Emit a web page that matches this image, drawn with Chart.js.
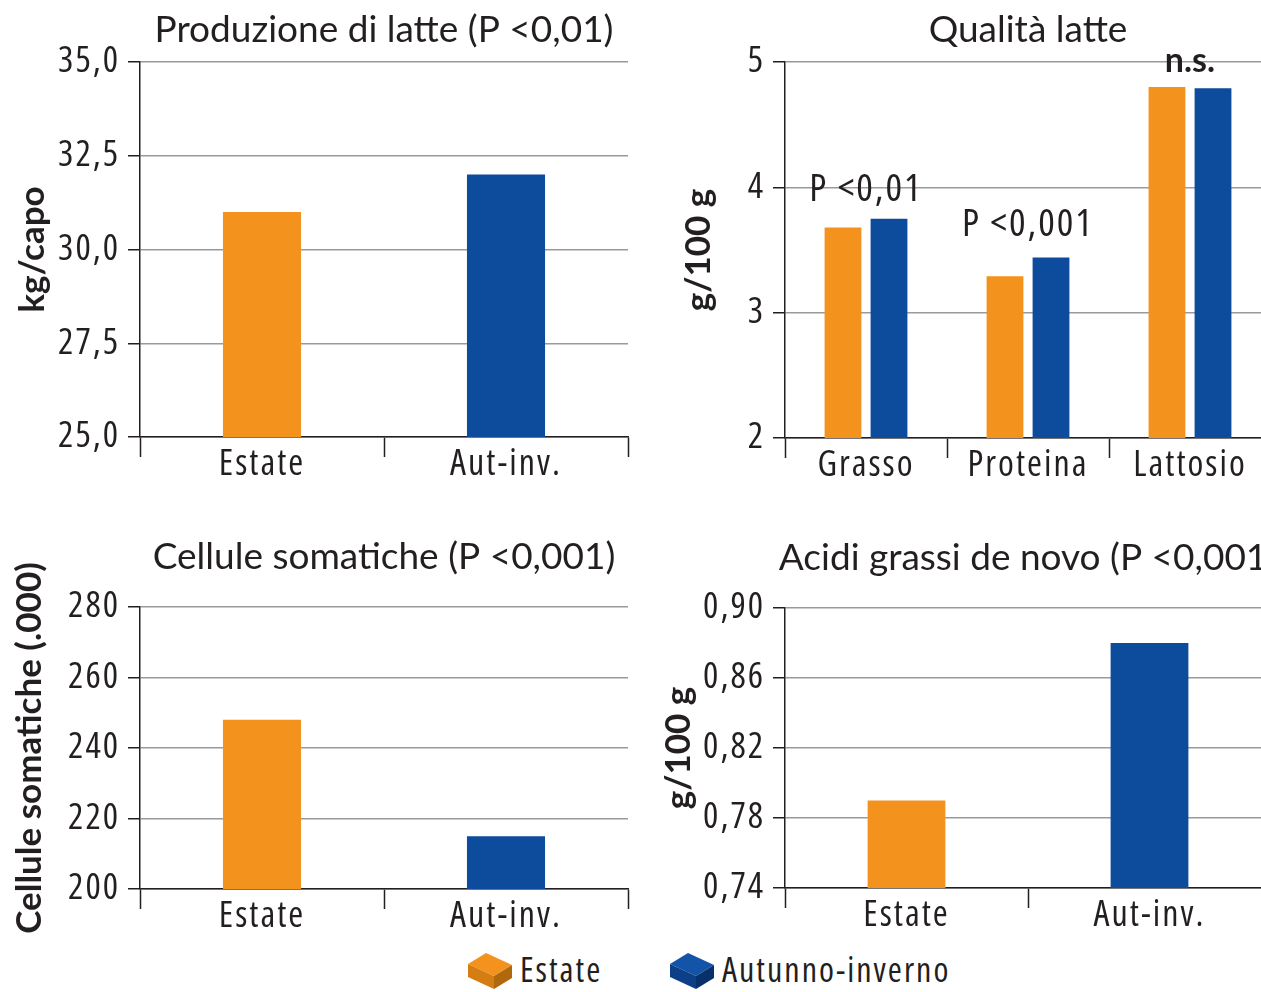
<!DOCTYPE html>
<html>
<head>
<meta charset="utf-8">
<script src="https://cdn.jsdelivr.net/npm/chart.js@4.4.1/dist/chart.umd.min.js"></script>
<style>
  html, body { margin: 0; padding: 0; background: #fff; }
  #wrap { position: relative; width: 1261px; height: 992px; overflow: hidden; }
  .box { position: absolute; width: 640px; }
  .leg { position: absolute; top: 946px; display: flex; align-items: center; color: #231f20; font-size: 34px; }
  .leg svg { margin-right: 6px; }
</style>
</head>
<body>
<div id="wrap">
  <div class="box" style="left:0;top:0;height:490px"><canvas id="c1"></canvas></div>
  <div class="box" style="left:640px;top:0;height:490px"><canvas id="c2"></canvas></div>
  <div class="box" style="left:0;top:520px;height:420px"><canvas id="c3"></canvas></div>
  <div class="box" style="left:640px;top:520px;height:420px"><canvas id="c4"></canvas></div>

  <div class="leg" style="left:466px">
    <svg width="48" height="42" viewBox="0 0 48 42">
      <polygon points="2,16 20,5 46,17 28,28" fill="#f4921e"/>
      <polygon points="2,16 28,28 28,41 2,29" fill="#d47d12"/>
      <polygon points="28,28 46,17 46,30 28,41" fill="#b0680c"/>
    </svg><span id="legEstate"></span>
  </div>
  <div class="leg" style="left:668px">
    <svg width="48" height="42" viewBox="0 0 48 42">
      <polygon points="2,16 20,5 46,17 28,28" fill="#1354a8"/>
      <polygon points="2,16 28,28 28,41 2,29" fill="#0b3f87"/>
      <polygon points="28,28 46,17 46,30 28,41" fill="#08306a"/>
    </svg><span id="legAutInv"></span>
  </div>
</div>

<script>
// data
const seasons = ["Estate", "Aut-inv."];
const legendLabels = ["Estate", "Autunno-inverno"];

const milkYield = [31.0, 32.0];
const milkYieldTicks = [25, 27.5, 30, 32.5, 35];
const milkYieldTickLabels = ["25,0", "27,5", "30,0", "32,5", "35,0"];

const qualityCats = ["Grasso", "Proteina", "Lattosio"];
const qualityEstate = [3.68, 3.29, 4.80];
const qualityAutInv = [3.75, 3.44, 4.79];
const qualitySig = ["P <0,01", "P <0,001", "n.s."];
const qualityTicks = [2, 3, 4, 5];
const qualityTickLabels = ["2", "3", "4", "5"];

const somaticCells = [248, 215];
const somaticTicks = [200, 220, 240, 260, 280];
const somaticTickLabels = ["200", "220", "240", "260", "280"];

const deNovoFA = [0.79, 0.88];
const deNovoTicks = [0.74, 0.78, 0.82, 0.86, 0.90];
const deNovoTickLabels = ["0,74", "0,78", "0,82", "0,86", "0,90"];

// styles
const ORANGE = "#f4921e";
const BLUE = "#0d4b9d";
const INK = "#231f20";
const GRID = "#9a9a9a";
const FONT_TITLE = "Lato, 'Noto Sans', sans-serif";

// find a narrow face for the tick labels (the original uses a condensed font)
function pickCondensed(){
  const ctx = document.createElement("canvas").getContext("2d");
  const probe = "Estate 35,0 Aut-inv. Autunno";
  const w = f => { ctx.font = f; return ctx.measureText(probe).width; };
  const mono = w("40px monospace");
  const cands = ["'Noto Sans'", "'Open Sans'", "Roboto", "'DejaVu Sans'"];
  // a real semi-condensed face first
  for(const fam of cands){
    const normal = w("40px " + fam + ", monospace");
    if(Math.abs(normal - mono) < 0.5) continue;
    const semi = w("semi-condensed 40px " + fam + ", monospace");
    const cond = w("condensed 40px " + fam + ", monospace");
    if(semi < normal * 0.95 && semi > cond * 1.05) return { family: fam, stretch: "semi-condensed", spacing: 0 };
  }
  // otherwise a condensed face, opened up a little
  for(const fam of cands){
    const normal = w("40px " + fam + ", monospace");
    if(Math.abs(normal - mono) < 0.5) continue;
    const cond = w("condensed 40px " + fam + ", monospace");
    if(cond < normal * 0.95) return { family: fam, stretch: "condensed", spacing: 2 };
  }
  return { family: "Lato", stretch: "", spacing: 0 };
}
const COND = pickCondensed();
const COND_SIZE = COND.family === "Lato" ? 32 : 36;

function condFont(size){
  return { family: COND.family, size: size, weight: COND.stretch || undefined };
}
function condCss(size){
  return (COND.stretch + " " + size + "px " + COND.family).trim();
}

document.querySelectorAll(".leg").forEach(el => {
  el.style.fontFamily = COND.family;
  if(COND.stretch) el.style.fontStretch = COND.stretch;
  el.style.letterSpacing = COND.spacing + "px";
});
document.getElementById("legEstate").innerText = legendLabels[0];
document.getElementById("legAutInv").innerText = legendLabels[1];

// condensed text gets a bit of tracking
const tracking = {
  id: "tracking",
  beforeDraw(chart){ chart.ctx.letterSpacing = COND.spacing + "px"; }
};

// panel title centred over the plot area, and the rotated y title
const panelTitle = {
  id: "panelTitle",
  afterDraw(chart, args, opts){
    const ctx = chart.ctx;
    const area = chart.chartArea;
    ctx.save();
    ctx.letterSpacing = "0px";
    ctx.fillStyle = INK;
    ctx.font = "37px " + FONT_TITLE;
    ctx.textAlign = "center";
    ctx.textBaseline = "middle";
    ctx.fillText(opts.text, (area.left + area.right) / 2, opts.y);
    ctx.translate(opts.yTitleX, (area.top + area.bottom) / 2);
    ctx.rotate(-Math.PI / 2);
    ctx.font = "bold 35px " + FONT_TITLE;
    ctx.fillText(opts.yTitle, 0, 0);
    ctx.restore();
  }
};

// significance labels over the bar groups
const sigLabels = {
  id: "sigLabels",
  afterDatasetsDraw(chart, args, opts){
    if(!opts.labels) return;
    const ctx = chart.ctx;
    const m0 = chart.getDatasetMeta(0);
    const m1 = chart.getDatasetMeta(1);
    ctx.save();
    ctx.fillStyle = INK;
    ctx.textAlign = "center";
    ctx.textBaseline = "alphabetic";
    opts.labels.forEach((txt, i) => {
      const top = Math.min(m0.data[i].y, m1.data[i].y);
      const x = chart.scales.x.getPixelForValue(i);
      if(opts.bold[i]){
        ctx.letterSpacing = "0px";
        ctx.font = "bold 34px " + FONT_TITLE;
      } else {
        ctx.letterSpacing = COND.spacing + "px";
        ctx.font = condCss(COND_SIZE + 3);
      }
      ctx.fillText(txt, x, top - opts.gap[i]);
    });
    ctx.restore();
  }
};

function makeChart(id, cfg){
  const yScale = {
    min: cfg.ticks[0],
    max: cfg.ticks[cfg.ticks.length - 1],
    afterBuildTicks: s => { s.ticks = cfg.ticks.map(v => ({ value: v })); },
    afterFit: s => { s.width = cfg.yWidth; },
    ticks: {
      color: INK,
      padding: 10 - COND.spacing,
      font: condFont(COND_SIZE),
      callback: (v, i) => cfg.tickLabels[i]
    },
    grid: { color: GRID, lineWidth: 1.5, tickColor: INK, tickLength: 12, tickWidth: 1.5 },
    border: { color: INK, width: 1.5 }
  };

  const xScale = {
    afterFit: s => { s.height = cfg.xHeight; },
    ticks: { color: INK, padding: -14, font: condFont(COND_SIZE) },
    grid: { drawOnChartArea: false, drawTicks: true, tickLength: 20, tickColor: INK, tickWidth: 1.5 },
    border: { color: INK, width: 1.5 }
  };

  return new Chart(document.getElementById(id), {
    type: "bar",
    data: { labels: cfg.labels, datasets: cfg.datasets },
    options: {
      responsive: true,
      maintainAspectRatio: false,
      animation: false,
      layout: { padding: { top: cfg.top, right: cfg.right, left: 0, bottom: 0 } },
      scales: { x: xScale, y: yScale },
      plugins: {
        legend: { display: false },
        tooltip: { enabled: false },
        panelTitle: { text: cfg.title, y: cfg.titleY, yTitle: cfg.yTitle, yTitleX: cfg.yTitleX },
        sigLabels: cfg.sig || {}
      }
    },
    plugins: [tracking, panelTitle, sigLabels]
  });
}

// Produzione di latte
makeChart("c1", {
  labels: seasons,
  datasets: [{ data: milkYield, backgroundColor: [ORANGE, BLUE], barPercentage: 0.32, categoryPercentage: 1 }],
  ticks: milkYieldTicks, tickLabels: milkYieldTickLabels,
  title: "Produzione di latte (P <0,01)", titleY: 30,
  yTitle: "kg/capo", yTitleX: 33,
  top: 62, right: 12, yWidth: 140, xHeight: 53
});

// Qualità latte
makeChart("c2", {
  labels: qualityCats,
  datasets: [
    { data: qualityEstate, backgroundColor: ORANGE, barPercentage: 0.8, categoryPercentage: 0.568 },
    { data: qualityAutInv, backgroundColor: BLUE, barPercentage: 0.8, categoryPercentage: 0.568 }
  ],
  ticks: qualityTicks, tickLabels: qualityTickLabels,
  title: "Qualità latte", titleY: 30,
  yTitle: "g/100 g", yTitleX: 59,
  top: 62, right: 9, yWidth: 145, xHeight: 52,
  sig: { labels: qualitySig, bold: [false, false, true], gap: [18, 22, 15] }
});

// Cellule somatiche
makeChart("c3", {
  labels: seasons,
  datasets: [{ data: somaticCells, backgroundColor: [ORANGE, BLUE], barPercentage: 0.32, categoryPercentage: 1 }],
  ticks: somaticTicks, tickLabels: somaticTickLabels,
  title: "Cellule somatiche (P <0,001)", titleY: 37,
  yTitle: "Cellule somatiche (.000)", yTitleX: 30,
  top: 87, right: 12, yWidth: 140, xHeight: 51
});

// Acidi grassi de novo
makeChart("c4", {
  labels: seasons,
  datasets: [{ data: deNovoFA, backgroundColor: [ORANGE, BLUE], barPercentage: 0.32, categoryPercentage: 1 }],
  ticks: deNovoTicks, tickLabels: deNovoTickLabels,
  title: "Acidi grassi de novo (P <0,001)", titleY: 38,
  yTitle: "g/100 g", yTitleX: 39,
  top: 88, right: 9, yWidth: 145, xHeight: 52
});
</script>
</body>
</html>
